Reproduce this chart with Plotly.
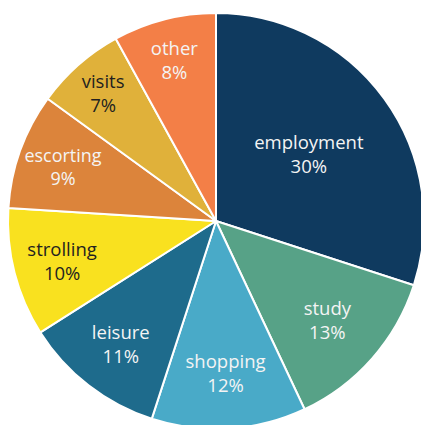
import plotly.graph_objects as go

categories = ["employment", "study", "shopping", "leisure", "strolling", "escorting", "visits", "other"]
values = [30, 13, 12, 11, 10, 9, 7, 8]
colors = ["#0f3a5f", "#57a287", "#49aac8", "#1e6b8c", "#f9e11f", "#dc843b", "#e0b13a", "#f37f47"]
text_colors = ["#f4f4f4", "#f4f4f4", "#f4f4f4", "#f4f4f4", "#231f20", "#f4f4f4", "#231f20", "#f4f4f4"]

fig = go.Figure(go.Pie(
    labels=categories,
    values=values,
    sort=False,
    direction="clockwise",
    rotation=0,
    marker=dict(colors=colors, line=dict(color="white", width=2)),
    texttemplate="%{label}<br>%{value}%",
    textposition="inside",
    insidetextorientation="horizontal",
    insidetextfont=dict(family="Open Sans", size=18.5, color=text_colors),
    showlegend=False,
    hoverinfo="skip",
))

fig.update_layout(
    width=424, height=430,
    margin=dict(l=8, r=0, t=13, b=1),
    paper_bgcolor="white",
    plot_bgcolor="white",
)

fig.write_html(
    "out.html",
    config={"displayModeBar": False},
    post_script="document.body.style.margin='0';document.body.style.overflow='hidden';document.documentElement.style.overflow='hidden';",
)
